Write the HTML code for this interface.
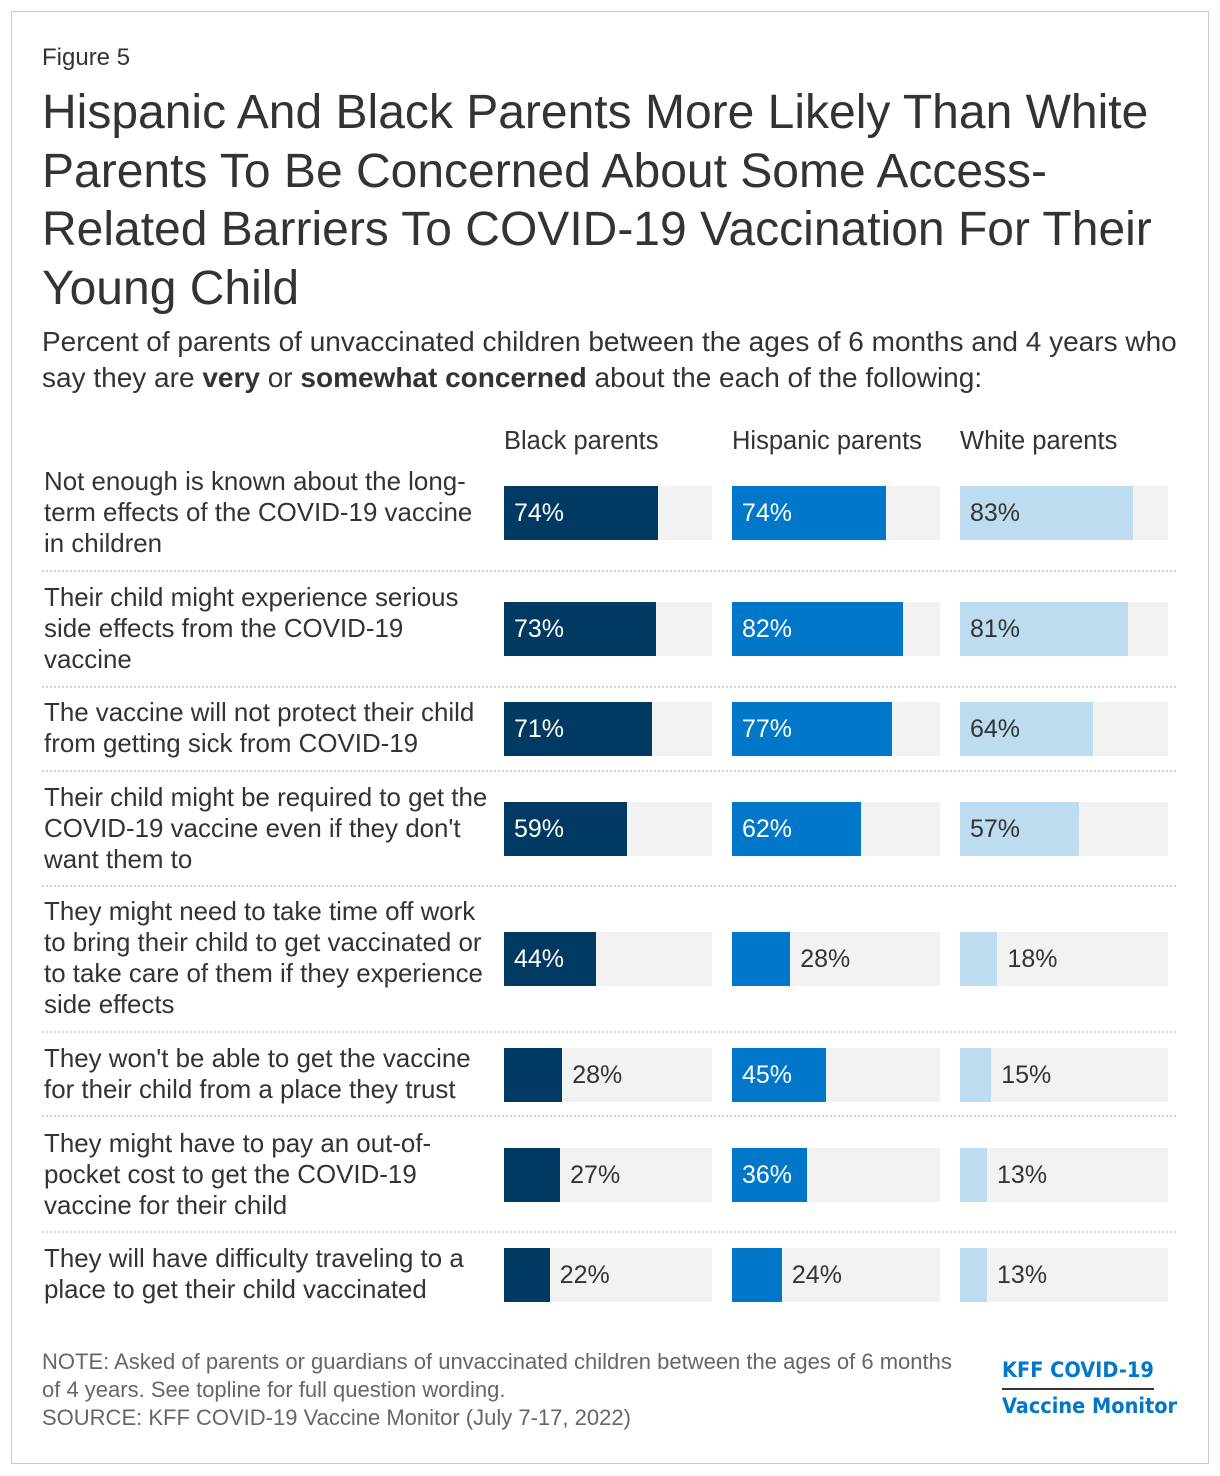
<!DOCTYPE html>
<html><head><meta charset="utf-8">
<style>
*{margin:0;padding:0;box-sizing:border-box}
body{width:1220px;height:1476px;background:#fff;font-family:"Liberation Sans",Arial,sans-serif;color:#333;position:relative;overflow:hidden}
#frame{position:absolute;left:11px;top:11px;width:1198px;height:1453px;border:1px solid #ccc}
.abs{position:absolute}
#fig{left:42px;top:44px;font-size:24px}
#title{left:42px;top:84px;width:1150px;font-size:48px;line-height:58.5px;color:#333}
#sub{left:42px;top:324px;width:1150px;font-size:28px;line-height:36px}
.colh{top:427px;font-size:25.5px}
.lbl{position:absolute;left:44px;width:446px;font-size:25.9px;line-height:31px;display:flex;align-items:center}
.bg{position:absolute;height:54px;width:208px;background:#f2f2f2}
.bar{position:absolute;height:54px}
.val{position:absolute;font-size:25px;line-height:54px}
.sep{position:absolute;left:42px;width:1134px;border-top:2px dotted #d4d4d4}
#note{left:42px;top:1348px;font-size:22px;line-height:28px;color:#666;width:930px}
#logo{left:1002px;top:1354px;font-family:"DejaVu Sans Condensed","DejaVu Sans",sans-serif;font-weight:bold;color:#0077c8;font-size:21.5px;line-height:34px}
#logo .l1{border-bottom:2px solid #333;display:inline-block;padding-bottom:0}
</style></head><body>
<div id="frame"></div>
<div class="abs" id="fig">Figure 5</div>
<div class="abs" id="title">Hispanic And Black Parents More Likely Than White Parents To Be Concerned About Some Access-Related Barriers To COVID-19 Vaccination For Their Young Child</div>
<div class="abs" id="sub">Percent of parents of unvaccinated children between the ages of 6 months and 4 years who say they are <b>very</b> or <b>somewhat concerned</b> about the each of the following:</div>
<div id="chart"></div>
<div class="abs" id="note">NOTE: Asked of parents or guardians of unvaccinated children between the ages of 6 months of 4 years. See topline for full question wording.<br>SOURCE: KFF COVID-19 Vaccine Monitor (July 7-17, 2022)</div>
<div class="abs" id="logo"><span class="l1">KFF COVID-19</span><br>Vaccine Monitor</div>
<script>
const categories=["Not enough is known about the long-term effects of the COVID-19 vaccine in children","Their child might experience serious side effects from the COVID-19 vaccine","The vaccine will not protect their child from getting sick from COVID-19","Their child might be required to get the COVID-19 vaccine even if they don't want them to","They might need to take time off work to bring their child to get vaccinated or to take care of them if they experience side effects","They won't be able to get the vaccine for their child from a place they trust","They might have to pay an out-of-pocket cost to get the COVID-19 vaccine for their child","They will have difficulty traveling to a place to get their child vaccinated"];
const seriesNames=["Black parents","Hispanic parents","White parents"];
const blackVals=[74,73,71,59,44,28,27,22];
const hispanicVals=[74,82,77,62,28,45,36,24];
const whiteVals=[83,81,64,57,18,15,13,13];
const series=[blackVals,hispanicVals,whiteVals];
const colors=["#003a63","#0077c8","#bddcf0"];
const textIn=["#fff","#fff","#333"];
const colX=[504,732,960], colW=208;
const rowCenters=[513,629,729,829,959,1075,1175,1275];
const seps=[571,687,771,886,1032,1116,1232];
const x=v=>v/100*colW;
const c=document.getElementById('chart');
function mk(cls){const d=document.createElement('div');d.className=cls;c.appendChild(d);return d;}
seriesNames.forEach((n,i)=>{const d=mk('abs colh');d.style.left=colX[i]+'px';d.textContent=n;

});
seps.forEach(y=>{const d=mk('sep');d.style.top=(y-1)+'px';

});
categories.forEach((cat,r)=>{
 const cy=rowCenters[r];
 const l=mk('lbl');l.style.top=(cy-70)+'px';l.style.height='140px';l.textContent=cat;
 
 
 series.forEach((s,i)=>{
  const v=s[r];
  const bg=mk('bg');bg.style.left=colX[i]+'px';bg.style.top=(cy-27)+'px';
  
  
  const b=mk('bar');b.style.left=colX[i]+'px';b.style.top=(cy-27)+'px';b.style.width=x(v)+'px';b.style.background=colors[i];
  
  
  const t=mk('val');t.style.top=(cy-27)+'px';t.textContent=v+'%';
  
  
  const inside=i==2?v>=50:v>=30;
  if(inside){t.style.left=(colX[i]+10)+'px';t.style.color=textIn[i];}
  else{t.style.left=(colX[i]+x(v)+10)+'px';t.style.color='#333';}
 });
});
</script>
</body></html>
